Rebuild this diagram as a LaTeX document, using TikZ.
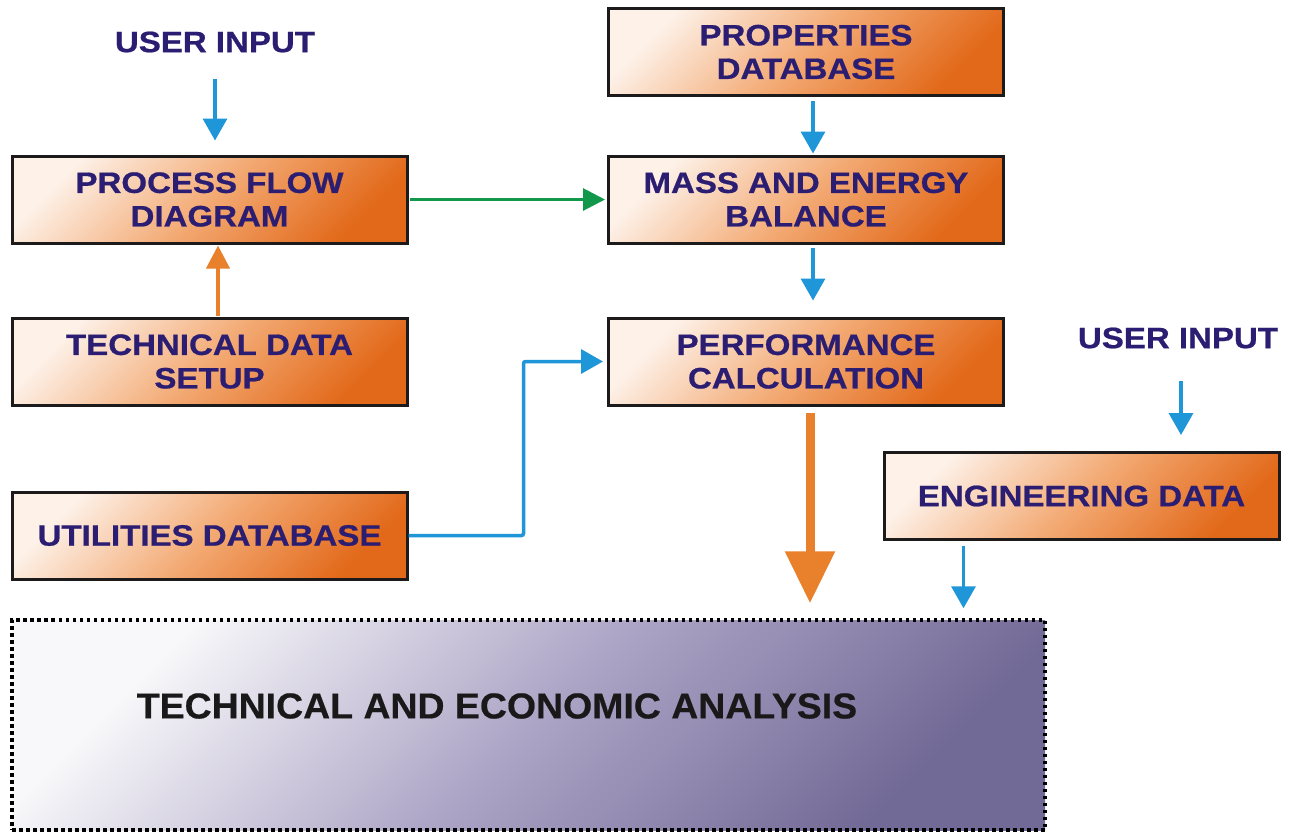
\documentclass[tikz,border=0pt]{standalone}
\usepackage{fontspec}
\setmainfont{Liberation Sans}
\newfontfamily\boxfont[FakeStretch=1.12,FakeBold=0.7]{Liberation Sans Bold}
\newfontfamily\teafont[FakeStretch=1.04,FakeBold=0.5]{Liberation Sans Bold}
\usetikzlibrary{arrows.meta,calc}

\definecolor{navy}{HTML}{2B1D72}
\definecolor{peach}{HTML}{FDF1E8}
\definecolor{orangemid}{HTML}{F3AA74}
\definecolor{orangedeep}{HTML}{E2691A}
\definecolor{flowblue}{HTML}{1E96D8}
\definecolor{flowgreen}{HTML}{12984A}
\definecolor{floworange}{HTML}{E8802C}
\definecolor{slate}{HTML}{726A96}
\definecolor{lavender}{HTML}{ADA5C6}
\definecolor{edge}{HTML}{1C1A1A}

\tikzset{
  x=1pt, y=-1pt,
  stepbox/.style={draw=edge, line width=3pt, minimum width=395pt, minimum height=87pt,
    top color=peach, bottom color=orangedeep, middle color=orangemid,
    shading angle=45, text=navy, align=center,
    font=\boxfont\fontsize{29.5}{33.5}\selectfont, inner sep=0pt},
  inputlabel/.style={text=navy, font=\boxfont\fontsize{29.5}{33.5}\selectfont, inner sep=0pt},
  analysisbox/.style={draw=black, line width=3.5pt, dash pattern=on 3.5pt off 3.5pt,
    top color=white!95!slate, bottom color=slate, middle color=lavender, shading angle=45,
    minimum width=1033pt, minimum height=210pt, inner sep=0pt},
  bluearrow/.style={draw=flowblue, line width=3.5pt, -{Triangle[width=24pt,length=22pt]}},
  greenarrow/.style={draw=flowgreen, line width=3pt, -{Triangle[width=22pt,length=22pt]}},
  orangearrow/.style={draw=floworange, line width=4pt, -{Triangle[width=23pt,length=23pt]}},
  bigarrow/.style={draw=floworange, line width=9pt, -{Triangle[width=48pt,length=52pt]}},
}

\begin{document}
\begin{tikzpicture}
\path[use as bounding box, fill=white] (0,0) rectangle (1296,833);

% left column
\node[stepbox] (pfd) at (209.5,199.5) {PROCESS FLOW\\DIAGRAM};
\node[stepbox] (tds) at (209.5,361.5) {TECHNICAL DATA\\SETUP};
\node[stepbox] (ud)  at (209.5,535.5) {UTILITIES DATABASE};

% centre column
\node[stepbox] (pd)  at (806,52)    {PROPERTIES\\DATABASE};
\node[stepbox] (meb) at (806,199.5) {MASS AND ENERGY\\BALANCE};
\node[stepbox] (pc)  at (806,361.5) {PERFORMANCE\\CALCULATION};

% right side
\node[stepbox] (ed)  at (1081.5,496) {ENGINEERING DATA};

% user inputs
\node[inputlabel] (ui1) at (215,42)  {USER INPUT};
\node[inputlabel] (ui2) at (1178,338) {USER INPUT};

% analysis block
\node[analysisbox] (tea) at (528.5,725) {};
\node[text=black!90, font=\teafont\fontsize{36}{40}\selectfont, inner sep=0pt] (tealabel) at (497,706)
  {TECHNICAL AND ECONOMIC ANALYSIS};

% connectors
\draw[bluearrow, shorten <=26pt, shorten >=14pt] (ui1) -- (ui1 |- pfd.north);
\draw[orangearrow, shorten <=1pt, shorten >=1pt] ([xshift=8.5pt]tds.north) -- ([xshift=8.5pt]pfd.south);
\draw[greenarrow, shorten <=1pt, shorten >=2pt] (pfd.east) -- (meb.west);
\draw[bluearrow, shorten <=4pt, shorten >=1pt] ([xshift=7pt]pd.south) -- ([xshift=7pt]meb.north);
\draw[bluearrow, shorten <=3pt, shorten >=16pt] ([xshift=7pt]meb.south) -- ([xshift=7pt]pc.north);
\draw[bluearrow, rounded corners=2pt, shorten >=4pt] (ud.east) -- ++(115,0) |- (pc.west);
\draw[bigarrow, shorten <=6pt, shorten >=15pt] ([xshift=4pt]pc.south) -- ([xshift=4pt]pc.south |- tea.north);
\draw[bluearrow, shorten <=32pt, shorten >=16pt] ([xshift=3pt]ui2.south) -- ([xshift=3pt]ui2.south |- ed.north);
\draw[bluearrow, shorten <=5pt, shorten >=10pt] ([xshift=81pt]ed.south west) -- ([xshift=81pt]ed.south west |- tea.north);
\end{tikzpicture}
\end{document}
